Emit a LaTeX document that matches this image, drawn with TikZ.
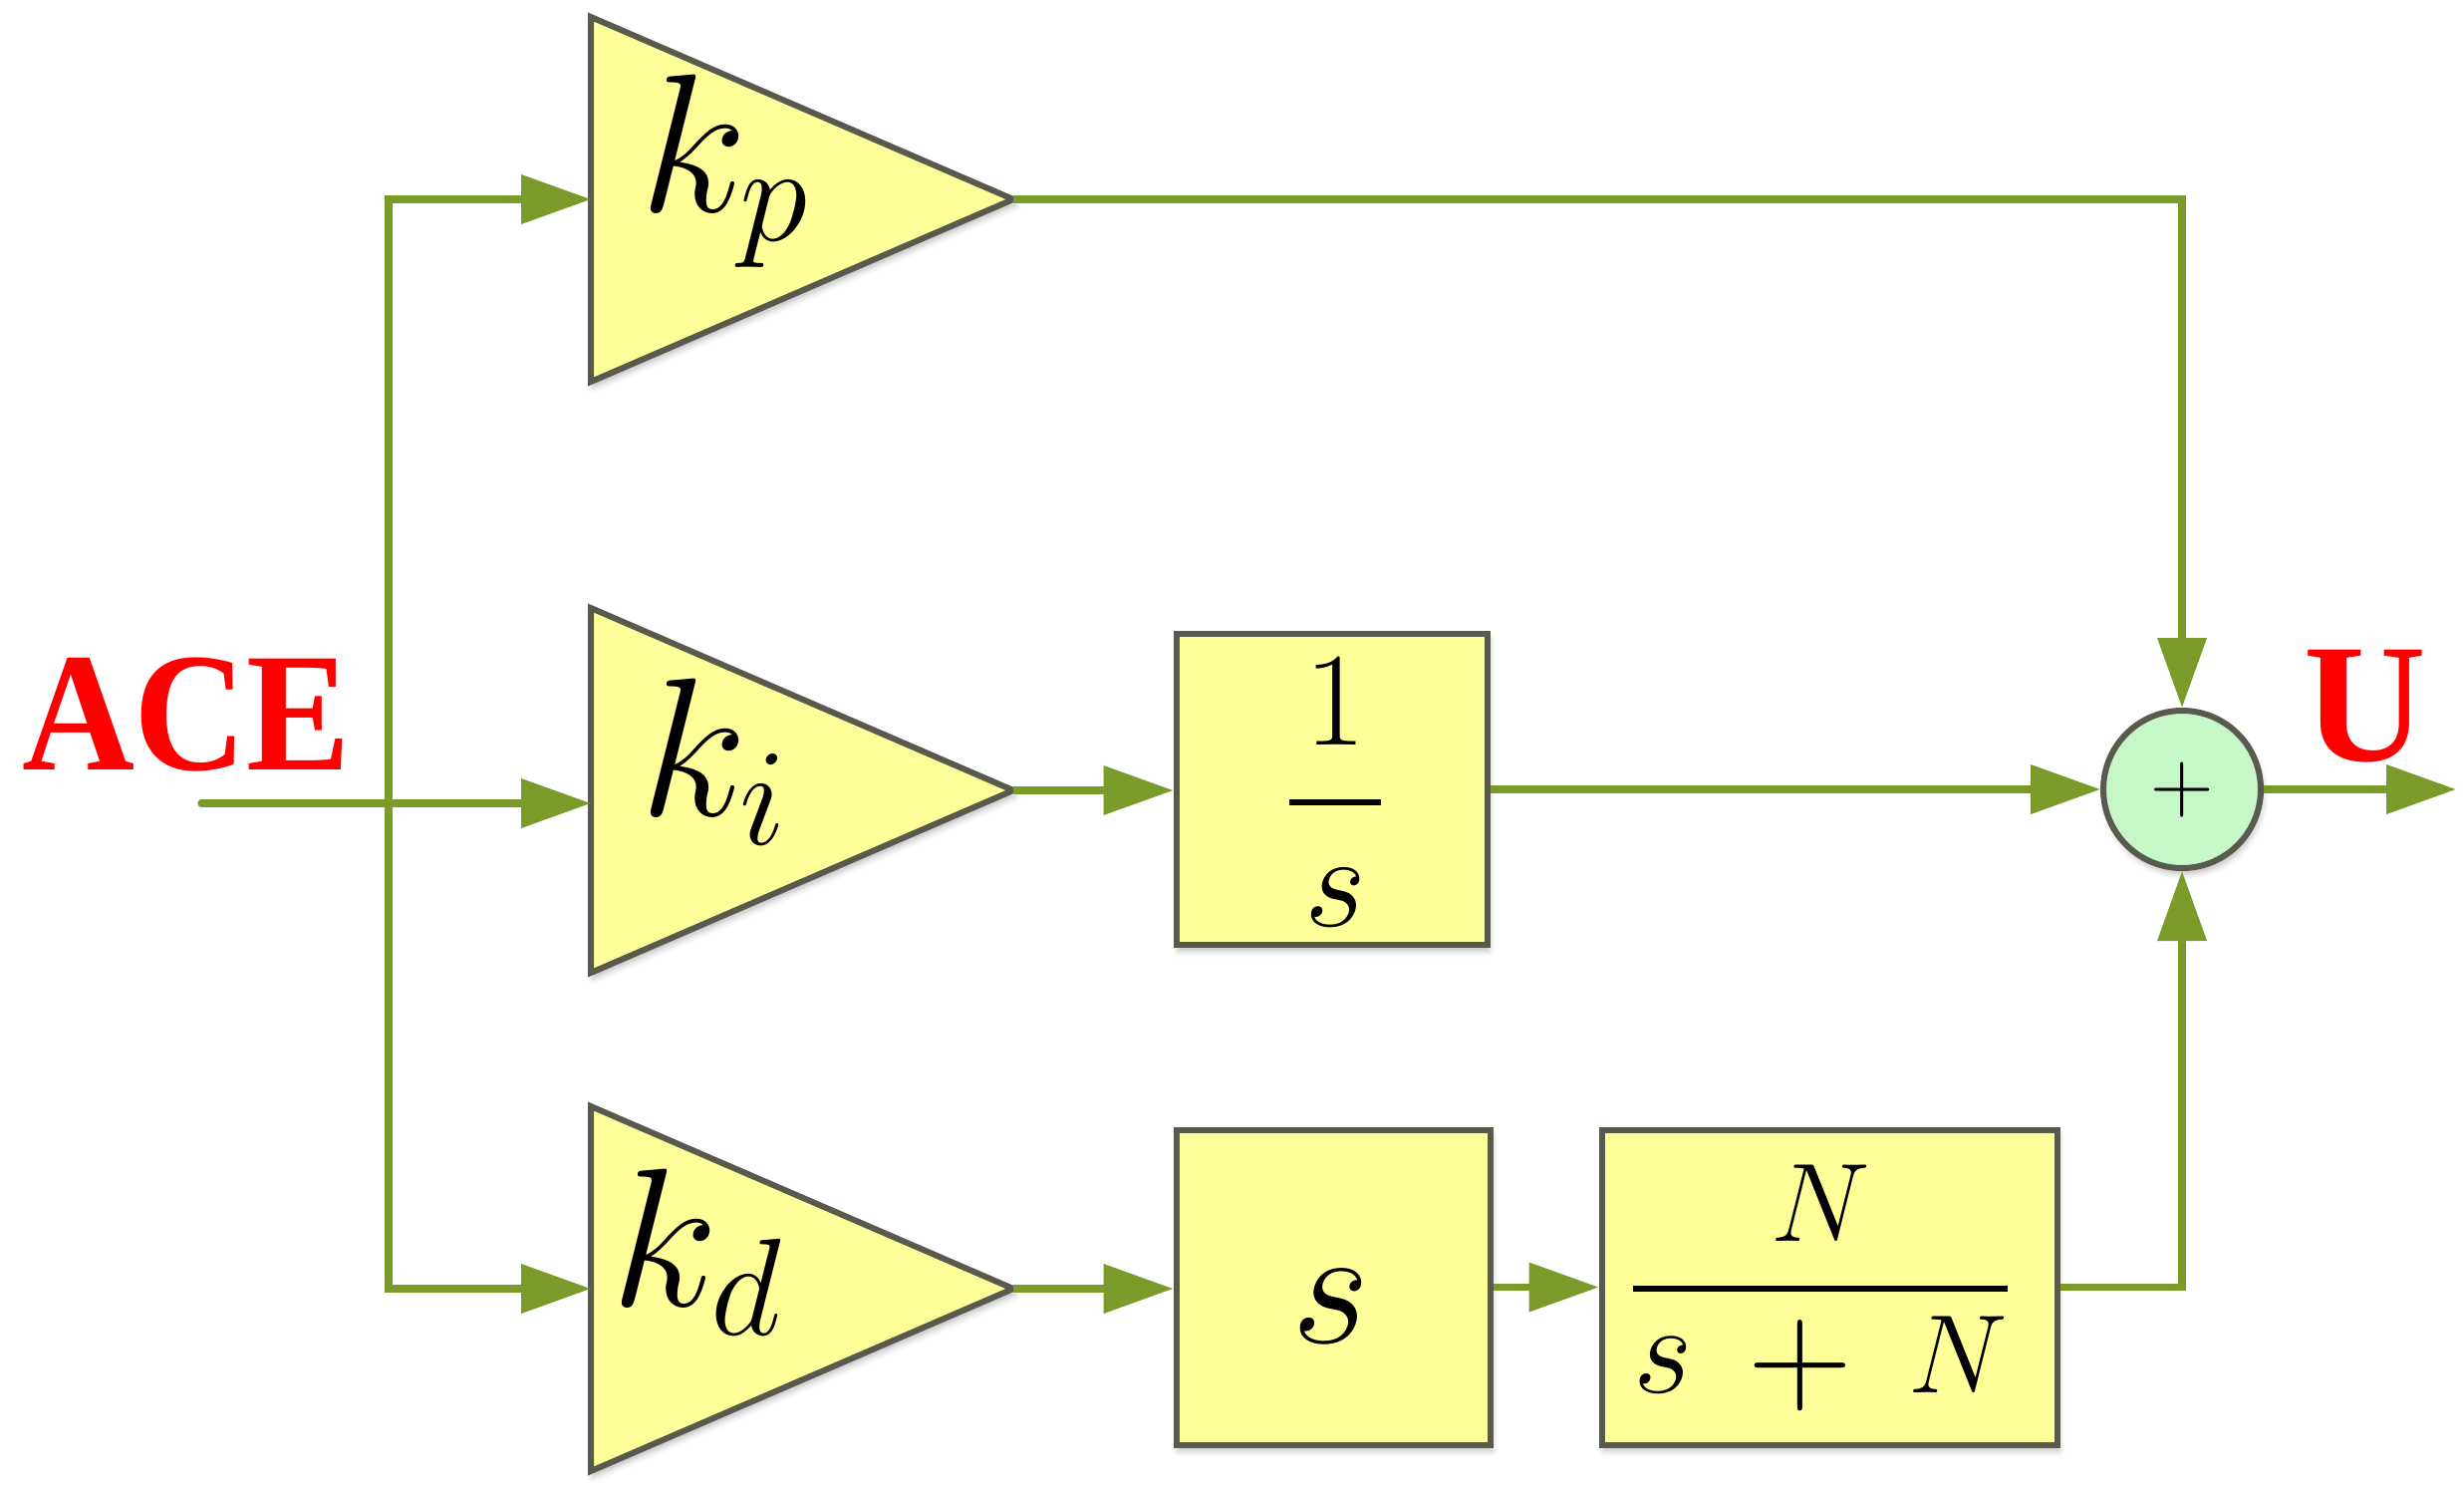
\RequirePackage{fix-cm}
\documentclass[tikz,border=0pt]{standalone}
\usepackage{fontspec}
\usepackage{graphicx}
\usetikzlibrary{arrows.meta,shadows.blur,calc}
\newfontfamily\acefont{Liberation Serif}
\definecolor{wireg}{RGB}{122,154,42}
\definecolor{yfill}{RGB}{255,255,153}
\definecolor{bord}{RGB}{88,90,78}
\definecolor{gfill}{RGB}{198,247,198}
\begin{document}
\begin{tikzpicture}[x=0.5pt,y=-0.5pt,
  wire/.style={draw=wireg, line width=3.6pt},
  arr/.style={wire, -{Triangle[length=35pt,width=24pt]}},
  shad/.style={blur shadow={shadow xshift=1pt, shadow yshift=-3pt, shadow blur radius=3pt, shadow opacity=25}},
  tribox/.style={inner sep=0pt, outer sep=0pt, minimum width=212pt, minimum height=183pt},
  tri/.style={fill=yfill, draw=bord, line width=3pt, line join=miter, shad},
  blockbox/.style={rectangle, fill=yfill, draw=bord, line width=3pt, inner sep=0pt, shad},
  sumnode/.style={circle, fill=gfill, draw=bord, line width=3pt, minimum size=79pt, inner sep=0pt, shad},
  txt/.style={inner sep=0pt, outer sep=0pt},
  lbl/.style={txt, text=red, font=\acefont\bfseries\fontsize{85}{90}\selectfont}
]
\useasboundingbox (0,0) rectangle (2473,1499);

% triangle frames (invisible nodes)
\node[tribox] (kp) at (805,200) {};
\node[tribox] (ki) at (805,793) {};
\node[tribox] (kd) at (805,1293) {};
\path[tri] (kp.north west) -- (kp.east) -- (kp.south west) -- cycle;
\path[tri] (ki.north west) -- (ki.east) -- (ki.south west) -- cycle;
\path[tri] (kd.north west) -- (kd.east) -- (kd.south west) -- cycle;

% gain labels
\node[txt, anchor=base west] (tkp) at (642,212) {\fontsize{99}{100}\selectfont$k_p$};
\node[txt, anchor=base west] (tki) at (642,818) {\fontsize{99}{100}\selectfont$k_i$};
\node[txt, anchor=base west] (tkd) at (613,1310) {\fontsize{99}{100}\selectfont$k_d$};

% blocks
\node[blockbox, minimum width=156pt, minimum height=156pt] (inte) at (1336.5,792) {};
\node[blockbox, minimum width=157.5pt, minimum height=158pt] (der) at (1338,1291.5) {};
\node[blockbox, minimum width=228.5pt, minimum height=158pt] (filt) at (1836,1291.5) {};
\node[sumnode] (sum) at (2190,792) {\fontsize{44}{44}\selectfont$+$};

% block labels
\node[txt, anchor=base] (tinte) at (1340,838) {\fontsize{67}{70}\selectfont$\displaystyle{\mkern2mu1\mkern2mu\above 3pt s}$};
\node[txt, anchor=base] (tder) at (1336,1347) {\fontsize{85}{90}\selectfont$s$};
\node[txt, anchor=base] (tfilt) at (1827,1321) {\fontsize{56}{60}\selectfont$\medmuskip=9mu\displaystyle{N\above 2.6pt \scalebox{1.15}{$s$}\mathbin{\vcenter{\hbox{\scalebox{1.3}{$+$}}}}N}$};

% signal labels
\node[lbl, anchor=base west] (lace) at (22,772) {\scalebox{0.92}[1]{ACE}};
\node[lbl, anchor=base west] (lu) at (2312,763) {U};

% connectors
\coordinate (ace) at (202,806);
\coordinate (bus) at (390,806);
\coordinate (out) at (2465,792);
\draw[arr, line cap=round] (ace) -- (ace -| ki.west);
\draw[wire, {Triangle[length=35pt,width=24pt]}-{Triangle[length=35pt,width=24pt]}]
  (kp.west) -- (bus |- kp.west) -- (bus |- kd.west) -- (kd.west);
\draw[arr] (kp.east) -| (sum.north);
\draw[arr] (ki.east) -- (ki.east -| inte.west);
\draw[arr] (inte.east) -- (sum.west);
\draw[arr] (kd.east) -- (kd.east -| der.west);
\draw[arr] (der.east) -- (filt.west);
\draw[arr] (filt.east) -| (sum.south);
\draw[arr] (sum.east) -- (out);
\end{tikzpicture}
\end{document}
